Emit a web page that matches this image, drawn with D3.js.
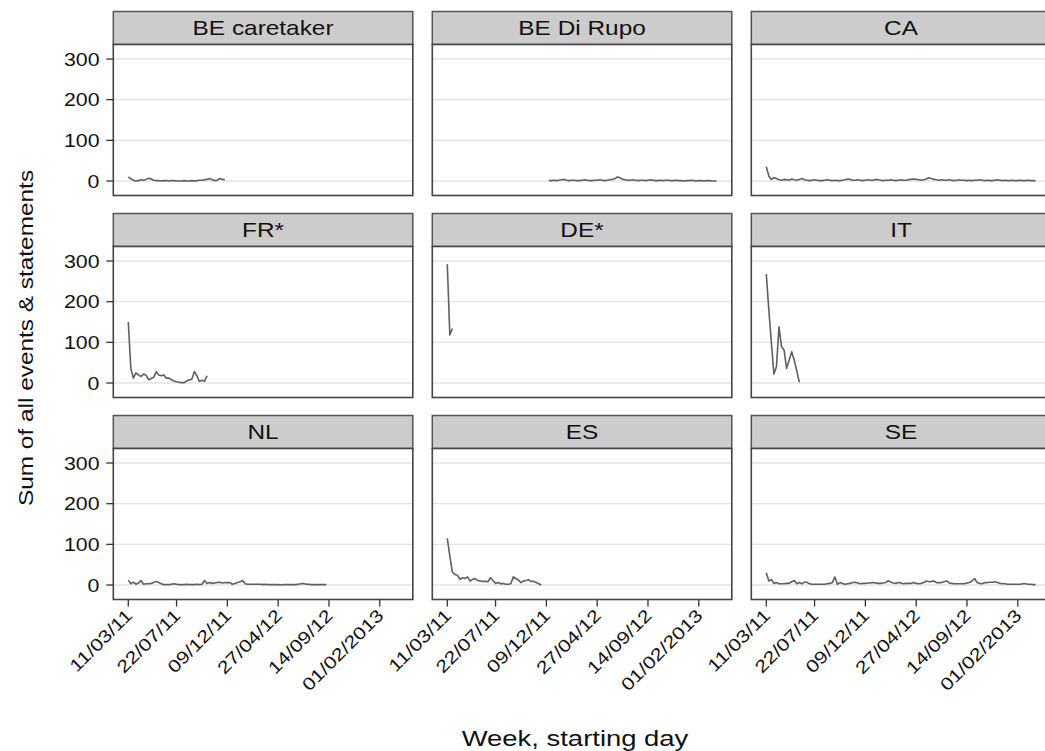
<!DOCTYPE html>
<html lang="en">
<head>
<meta charset="UTF-8" />
<title>Weekly events & statements by country</title>
<script src="https://d3js.org/d3.v7.min.js"></script>
<style>
  body { margin: 0; background: #fff; }
  svg { display: block; font-family: "Liberation Sans", Arial, Helvetica, sans-serif; }
</style>
</head>
<body>
<svg id="chart" width="1045" height="751"></svg>
<script>
// panel order, row by row
const panels = ["BE caretaker", "BE Di Rupo", "CA", "FR*", "DE*", "IT", "NL", "ES", "SE"];
// first week (1 = week starting 11/03/11) of each series
const startWeek = { "BE caretaker": 1, "BE Di Rupo": 41, "CA": 1, "FR*": 1, "DE*": 1, "IT": 1, "NL": 1, "ES": 1, "SE": 1 };

// weekly sums
const beCaretaker = [10,6,2,0,1,3,2,4,7,5,2,1,1,0,1,1,0,1,1,0,0,0,1,0,0,1,0,1,2,2,3,4,6,3,1,2,6,4,3];
const beDiRupo = [1,1,2,1,2,3,4,2,1,2, 2,1,1,2,3,2,1,1,2,2, 3,2,1,2,3,4,6,10,8,4,
  3,2,2,3,2,1,2,2,1,2, 3,2,1,1,2,1,2,2,1,1, 2,1,1,0,1,1,2,1,0,1, 1,0,1,1,0,0,0];
const ca = [35,12,4,8,6,3,2,4,3,2, 5,3,2,4,6,3,2,1,2,3, 2,1,1,2,3,2,1,2,1,1, 2,3,5,4,2,2,3,2,1,2,
  3,2,2,4,3,2,1,2,2,3, 2,1,2,3,2,2,3,4,5,4, 3,2,3,5,8,6,4,3,2,3, 2,2,3,2,1,2,3,2,2,1,
  2,1,2,2,3,2,1,2,1,1, 2,3,2,1,2,1,1,2,1,1, 2,1,1,2,1,1,0];
const fr = [150,36,12,25,20,16,22,19,8,11,14,28,20,18,20,12,12,8,5,3,2,1,1,5,8,9,28,18,4,7,4,18];
const de = [292,118,134];
const it = [268,180,100,22,40,138,89,81,36,56,77,56,30,2];
const nl = [12,3,7,2,5,11,2,3,3,4, 6,9,6,3,1,1,1,2,3,2, 1,1,1,2,1,1,1,2,1,2, 11,4,6,4,5,6,7,5,6,6,
  6,2,4,6,8,11,3,2,2,2, 2,2,2,1,2,1,1,1,1,1, 0,1,1,1,1,1,1,2,3,4, 2,2,1,1,1,1,1,1,1];
const es = [115,71,32,26,24,14,18,16,20,10,14,16,11,10,9,9,8,18,11,4,6,3,4,2,2,3,20,16,12,6,10,11,13,9,9,6,3,0];
const se = [30,10,14,4,6,3,3,3,4,4, 8,11,3,6,3,7,7,3,2,2, 2,2,2,2,3,4,6,20,2,6, 4,2,3,4,6,7,5,3,4,4,
  5,5,6,5,4,4,5,6,11,7, 5,4,6,5,3,4,4,4,6,4, 3,4,6,10,8,9,10,6,6,6, 8,10,5,4,3,3,3,3,3,5,
  6,10,16,6,4,3,6,6,7,7, 8,6,4,3,3,2,2,2,2,2, 2,3,3,2,2,1,1];

const seriesValues = { "BE caretaker": beCaretaker, "BE Di Rupo": beDiRupo, "CA": ca, "FR*": fr,
  "DE*": de, "IT": it, "NL": nl, "ES": es, "SE": se };

const xTickWeeks = [1, 20, 40, 60, 80, 100];
const xTickLabels = ["11/03/11", "22/07/11", "09/12/11", "27/04/12", "14/09/12", "01/02/2013"];
const yTicks = [0, 100, 200, 300];

// layout
const left0 = 113.3, colStep = 319, panelW = 299.5;
const top0 = 11.5, rowStep = 202, stripH = 33, panelH = 151;
const stretch = 1.22; // the reference type is drawn wide

const svg = d3.select("#chart");

const x = d3.scaleLinear().domain([-4.9, 113]).range([0, panelW]);
const y = d3.scaleLinear().domain([-35.6, 335.7]).range([panelH, 0]);

const line = d3.line()
  .x((d) => x(d.week))
  .y((d) => y(d.value));

panels.forEach((name, i) => {
  const col = i % 3, row = Math.floor(i / 3);
  const gx = left0 + col * colStep;
  const gy = top0 + row * rowStep;

  const g = svg.append("g").attr("transform", `translate(${gx},${gy})`);

  // strip
  g.append("rect")
    .attr("width", panelW).attr("height", stripH)
    .attr("fill", "#cccccc").attr("stroke", "#555").attr("stroke-width", 1.5);
  g.append("text")
    .attr("transform", `translate(${panelW / 2},${stripH - 10}) scale(${stretch},1)`)
    .attr("text-anchor", "middle")
    .attr("font-size", 20)
    .attr("fill", "#111")
    .text(name);

  const p = g.append("g").attr("transform", `translate(0,${stripH})`);

  p.append("rect")
    .attr("width", panelW).attr("height", panelH)
    .attr("fill", "#fff");

  // horizontal grid
  p.selectAll(".grid")
    .data(yTicks)
    .enter()
    .append("line")
    .attr("x1", 0).attr("x2", panelW)
    .attr("y1", (d) => y(d)).attr("y2", (d) => y(d))
    .attr("stroke", "#e3e3e3").attr("stroke-width", 1.3);

  const vals = seriesValues[name];
  const data = vals.map((v, k) => ({ week: startWeek[name] + k, value: v }));
  p.append("path")
    .datum(data)
    .attr("d", line)
    .attr("fill", "none")
    .attr("stroke", "#5f5f5f")
    .attr("stroke-width", 1.6)
    .attr("stroke-linejoin", "round");

  p.append("rect")
    .attr("width", panelW).attr("height", panelH)
    .attr("fill", "none").attr("stroke", "#444").attr("stroke-width", 1.6);

  // y axis on the first column
  if (col === 0) {
    p.selectAll(".ytick")
      .data(yTicks)
      .enter()
      .append("line")
      .attr("x1", -7).attr("x2", 0)
      .attr("y1", (d) => y(d)).attr("y2", (d) => y(d))
      .attr("stroke", "#333").attr("stroke-width", 1.3);
    p.selectAll(".ylab")
      .data(yTicks)
      .enter()
      .append("text")
      .attr("transform", (d) => `translate(-13.8,${y(d) + 6.5}) scale(${stretch},1)`)
      .attr("text-anchor", "end")
      .attr("font-size", 17.5)
      .attr("fill", "#111")
      .text((d) => d);
  }

  // x axis on the last row
  if (row === 2) {
    p.selectAll(".xtick")
      .data(xTickWeeks)
      .enter()
      .append("line")
      .attr("x1", (d) => x(d)).attr("x2", (d) => x(d))
      .attr("y1", panelH).attr("y2", panelH + 7)
      .attr("stroke", "#333").attr("stroke-width", 1.3);
    p.selectAll(".xlab")
      .data(xTickWeeks)
      .enter()
      .append("text")
      .attr("transform", (d) => `translate(${x(d) + 5},${panelH + 17}) rotate(-45) scale(${stretch},1)`)
      .attr("text-anchor", "end")
      .attr("font-size", 17.5)
      .attr("fill", "#111")
      .text((d, k) => xTickLabels[k]);
  }
});

// axis titles
svg.append("text")
  .attr("transform", `translate(33,338) rotate(-90) scale(${stretch},1)`)
  .attr("text-anchor", "middle")
  .attr("font-size", 20)
  .attr("fill", "#111")
  .text("Sum of all events & statements");

svg.append("text")
  .attr("transform", `translate(575,746) scale(${stretch},1)`)
  .attr("text-anchor", "middle")
  .attr("font-size", 22.5)
  .attr("fill", "#111")
  .text("Week, starting day");
</script>
</body>
</html>
